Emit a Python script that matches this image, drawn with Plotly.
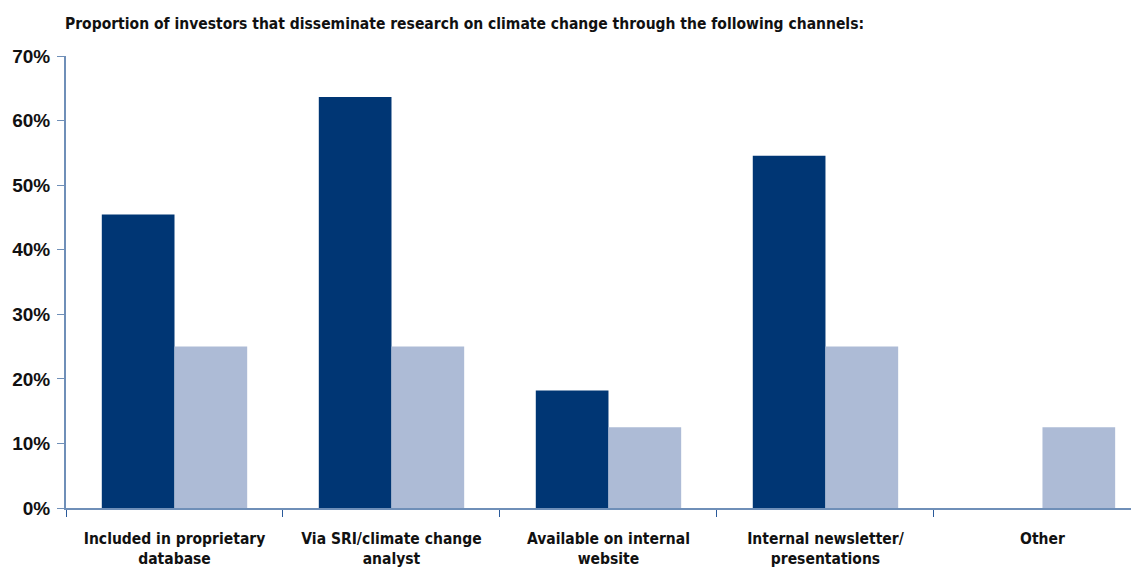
import plotly.graph_objects as go

# Dissemination channels and share of investors using each (%)
categories = [
    "Included in proprietary<br>database",
    "Via SRI/climate change<br>analyst",
    "Available on internal<br>website",
    "Internal newsletter/<br>presentations",
    "Other",
]
series_a = [45.45, 63.64, 18.18, 54.55, 0.0]
series_b = [25.0, 25.0, 12.5, 25.0, 12.5]
y_ticks = [0, 10, 20, 30, 40, 50, 60, 70]
y_tick_labels = [f"{v}%" for v in y_ticks]

DARK = "#003674"
LIGHT = "#adbbd6"
AXIS = "#6f8fb8"
NARROW = "DejaVu Sans Condensed, Liberation Sans Narrow, Arial Narrow, sans-serif"

fig = go.Figure()
fig.add_trace(go.Bar(x=categories, y=series_a, marker=dict(color=DARK, line_width=0), name="A"))
fig.add_trace(go.Bar(x=categories, y=series_b, marker=dict(color=LIGHT, line_width=0), name="B"))

fig.update_layout(
    width=1131,
    height=572,
    margin=dict(l=66, r=0, t=56, b=64),
    paper_bgcolor="white",
    plot_bgcolor="white",
    barmode="group",
    bargap=0.33,
    bargroupgap=0,
    showlegend=False,
    title=dict(
        text="<b>Proportion of investors that disseminate research on climate change through the following channels:</b>",
        font=dict(family=NARROW, size=15.5, color="#111111"),
        x=65 / 1131, xanchor="left", xref="container",
        y=1 - 24 / 572, yanchor="middle", yref="container",
    ),
)

fig.update_xaxes(
    type="category",
    range=[-0.5, 4.408],
    showline=True, linecolor=AXIS, linewidth=2,
    ticks="outside", tickson="boundaries", ticklen=7, tickcolor="#2a5a9a", tickwidth=1,
    tickfont=dict(family=NARROW, size=15.5, color="#111111"),
    ticklabelstandoff=15,
    showgrid=False, zeroline=False,
    tickvals=categories,
    ticktext=[f"<b>{c}</b>" for c in categories],
)

fig.update_yaxes(
    range=[0, 70],
    tickvals=y_ticks,
    ticktext=[f"<b>{t}</b>" for t in y_tick_labels],
    showline=True, linecolor=AXIS, linewidth=2,
    ticks="outside", ticklen=7, tickcolor=AXIS, tickwidth=1,
    tickfont=dict(family="Liberation Sans, Arial, sans-serif", size=19, color="#111111"),
    ticklabelstandoff=3,
    showgrid=False, zeroline=False,
)

fig.write_html("out.html")
